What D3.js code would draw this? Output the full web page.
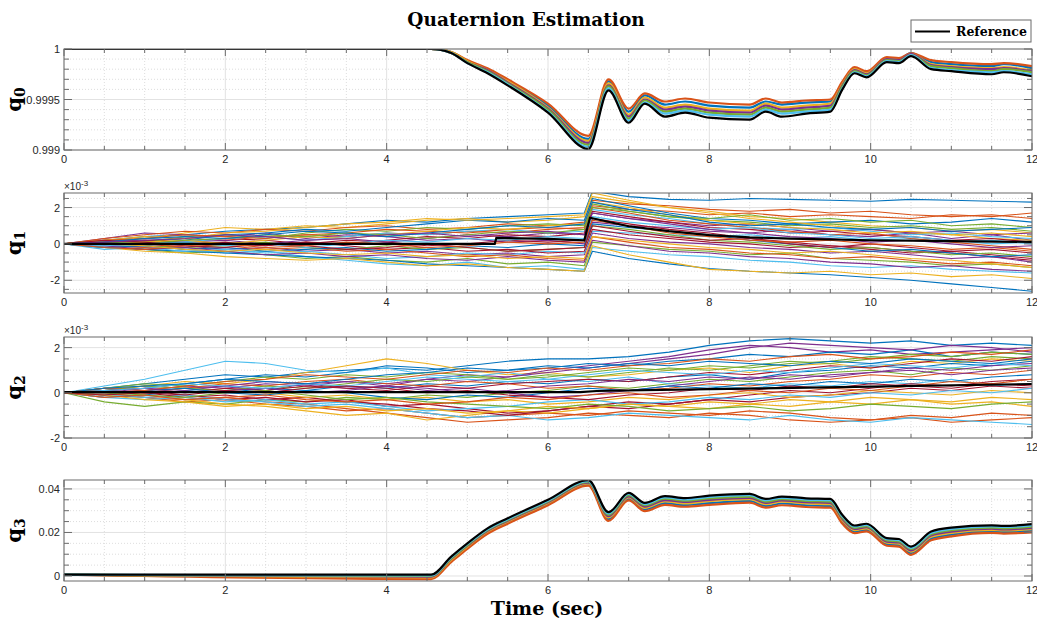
<!DOCTYPE html>
<html>
<head>
<meta charset="utf-8">
<script src="https://cdn.jsdelivr.net/npm/d3@7"></script>
<style>
  body { margin: 0; background: #fff; }
  svg { display: block; }
</style>
</head>
<body>
<svg id="chart" width="1037" height="621"></svg>
<script>
// ---- data ----
// time grid for q0 / q3 (smooth signals)
const tKey = [0, 4.55, 4.8, 5.0, 5.25, 5.5, 6.0, 6.5, 6.75, 7.0, 7.2, 7.45, 7.7, 8.0, 8.5, 8.7, 8.9, 9.2, 9.5, 9.65, 9.8, 9.95, 10.2, 10.35, 10.5, 10.75, 11.0, 11.5, 11.65, 12];

const q0Ref = [1, 1, 0.99996, 0.99986, 0.99976, 0.99964, 0.99937, 0.99901, 0.99959, 0.99927, 0.99946, 0.99933, 0.99937, 0.99932, 0.99930, 0.99938, 0.99933, 0.99936, 0.99938, 0.99960, 0.99976, 0.99972, 0.99987, 0.99986, 0.99993, 0.99980, 0.99978, 0.99975, 0.99977, 0.99973];
const q0Runs = [
  [1, 1, 0.99997, 0.99988, 0.99980, 0.99969, 0.99944, 0.99911, 0.99968, 0.99938, 0.99954, 0.99945, 0.99948, 0.99944, 0.99942, 0.99948, 0.99945, 0.99947, 0.99948, 0.99966, 0.99981, 0.99977, 0.99991, 0.99990, 0.99996, 0.99987, 0.99985, 0.99983, 0.99985, 0.99981],
  [1, 1, 0.99997, 0.99989, 0.99981, 0.99970, 0.99946, 0.99914, 0.99970, 0.99941, 0.99956, 0.99948, 0.99951, 0.99947, 0.99945, 0.99951, 0.99947, 0.99949, 0.99950, 0.99968, 0.99982, 0.99978, 0.99992, 0.99991, 0.99996, 0.99989, 0.99987, 0.99985, 0.99986, 0.99983],
  [1, 1, 0.99997, 0.99988, 0.99979, 0.99968, 0.99942, 0.99909, 0.99966, 0.99935, 0.99952, 0.99942, 0.99945, 0.99941, 0.99939, 0.99946, 0.99942, 0.99944, 0.99946, 0.99965, 0.99980, 0.99976, 0.99990, 0.99989, 0.99995, 0.99985, 0.99983, 0.99981, 0.99982, 0.99979],
  [1, 1, 0.99996, 0.99987, 0.99979, 0.99967, 0.99941, 0.99907, 0.99964, 0.99933, 0.99950, 0.99940, 0.99943, 0.99939, 0.99937, 0.99944, 0.99940, 0.99942, 0.99944, 0.99964, 0.99979, 0.99975, 0.99990, 0.99989, 0.99995, 0.99984, 0.99982, 0.99980, 0.99981, 0.99978],
  [1, 1, 0.99996, 0.99987, 0.99978, 0.99966, 0.99940, 0.99905, 0.99963, 0.99931, 0.99949, 0.99938, 0.99941, 0.99937, 0.99935, 0.99942, 0.99938, 0.99940, 0.99942, 0.99963, 0.99978, 0.99974, 0.99989, 0.99988, 0.99994, 0.99983, 0.99981, 0.99978, 0.99980, 0.99977],
  [1, 1, 0.99996, 0.99986, 0.99977, 0.99965, 0.99938, 0.99903, 0.99961, 0.99929, 0.99947, 0.99936, 0.99939, 0.99935, 0.99933, 0.99940, 0.99936, 0.99938, 0.99940, 0.99961, 0.99977, 0.99973, 0.99988, 0.99987, 0.99994, 0.99981, 0.99979, 0.99977, 0.99978, 0.99975]
];

const q3Ref = [0.0006, 0.0006, 0.0089, 0.0150, 0.0219, 0.0265, 0.0350, 0.0440, 0.0293, 0.0382, 0.0336, 0.0367, 0.0358, 0.0369, 0.0377, 0.0354, 0.0365, 0.0357, 0.0354, 0.0280, 0.0232, 0.0240, 0.0174, 0.0170, 0.0135, 0.0204, 0.0222, 0.0233, 0.0230, 0.0238];
const q3Runs = [
  [0.0006, -0.0010, 0.0069, 0.0130, 0.0199, 0.0245, 0.0330, 0.0420, 0.0261, 0.0354, 0.0306, 0.0335, 0.0326, 0.0335, 0.0345, 0.0322, 0.0333, 0.0325, 0.0322, 0.0248, 0.0204, 0.0212, 0.0146, 0.0142, 0.0105, 0.0172, 0.0190, 0.0205, 0.0202, 0.0208],
  [0.0006, -0.0014, 0.0064, 0.0125, 0.0194, 0.0240, 0.0325, 0.0415, 0.0253, 0.0347, 0.0298, 0.0327, 0.0318, 0.0327, 0.0337, 0.0314, 0.0325, 0.0317, 0.0314, 0.0240, 0.0197, 0.0205, 0.0139, 0.0135, 0.0097, 0.0164, 0.0182, 0.0198, 0.0195, 0.0200],
  [0.0006, -0.0006, 0.0074, 0.0135, 0.0204, 0.0250, 0.0335, 0.0425, 0.0269, 0.0361, 0.0313, 0.0343, 0.0334, 0.0344, 0.0353, 0.0330, 0.0341, 0.0333, 0.0330, 0.0256, 0.0211, 0.0219, 0.0153, 0.0149, 0.0112, 0.0180, 0.0198, 0.0212, 0.0209, 0.0215],
  [0.0006, -0.0003, 0.0078, 0.0139, 0.0208, 0.0254, 0.0339, 0.0429, 0.0275, 0.0366, 0.0319, 0.0349, 0.0340, 0.0350, 0.0359, 0.0336, 0.0347, 0.0339, 0.0336, 0.0262, 0.0216, 0.0224, 0.0158, 0.0154, 0.0118, 0.0186, 0.0204, 0.0217, 0.0214, 0.0221],
  [0.0006, 0.0000, 0.0081, 0.0142, 0.0211, 0.0257, 0.0342, 0.0432, 0.0281, 0.0371, 0.0325, 0.0355, 0.0346, 0.0356, 0.0365, 0.0342, 0.0353, 0.0345, 0.0342, 0.0268, 0.0221, 0.0229, 0.0163, 0.0159, 0.0124, 0.0192, 0.0210, 0.0222, 0.0219, 0.0227],
  [0.0006, 0.0003, 0.0085, 0.0146, 0.0215, 0.0261, 0.0346, 0.0436, 0.0287, 0.0377, 0.0330, 0.0361, 0.0352, 0.0363, 0.0371, 0.0348, 0.0359, 0.0351, 0.0348, 0.0274, 0.0227, 0.0235, 0.0169, 0.0165, 0.0129, 0.0198, 0.0216, 0.0228, 0.0225, 0.0232]
];

// q1, q2 are in units of 1e-3 (axis shows x10^-3)
const t1 = [0, 0.5, 1, 1.5, 2, 2.5, 3, 3.5, 4, 4.5, 5, 5.5, 6, 6.45, 6.55, 7, 7.5, 8, 8.5, 9, 9.5, 10, 10.5, 11, 11.5, 12];
const q1RefT = [0, 5.34, 5.36, 6.0, 6.45, 6.52, 7.0, 7.5, 8.0, 8.5, 9.0, 10.0, 11.0, 12.0];
const q1Ref = [0, 0, 0.33, 0.28, 0.2, 1.44, 0.97, 0.70, 0.48, 0.36, 0.29, 0.2, 0.15, 0.11];
const q1Runs = [
  [0, 0.2, 0.4, 0.5, 0.7, 0.8, 0.9, 1.1, 1.3, 1.2, 1.4, 1.5, 1.6, 1.7, 2.9, 2.6, 2.45, 2.4, 2.5, 2.45, 2.4, 2.35, 2.45, 2.4, 2.35, 2.3],
  [0, -0.1, 0.1, 0.3, 0.2, 0.4, 0.5, 0.4, 0.6, 0.5, 0.7, 0.6, 0.8, 0.9, 2.1, 1.9, 1.8, 1.6, 1.7, 1.5, 1.6, 1.5, 1.4, 1.6, 1.5, 1.7],
  [0, 0.2, 0.3, 0.6, 0.9, 0.8, 1.0, 0.9, 1.1, 1.3, 1.4, 1.2, 1.3, 1.5, 2.6, 2.3, 2.0, 1.8, 1.5, 1.4, 1.2, 1.0, 0.9, 0.7, 0.8, 0.6],
  [0, 0.3, 0.6, 0.5, 0.4, 0.6, 0.3, 0.5, 0.4, 0.2, 0.3, 0.1, 0.2, 0.0, 1.2, 1.0, 0.9, 0.7, 0.6, 0.8, 0.5, 0.4, 0.6, 0.3, 0.5, 0.2],
  [0, -0.2, -0.3, -0.5, -0.4, -0.6, -0.8, -0.7, -0.9, -1.0, -0.8, -1.1, -1.0, -1.2, 0.1, -0.1, -0.3, -0.4, -0.6, -0.5, -0.8, -0.9, -1.0, -1.2, -1.1, -1.3],
  [0, 0.1, -0.1, -0.3, -0.5, -0.4, -0.7, -0.9, -1.1, -1.2, -1.0, -1.3, -1.2, -1.4, -0.2, -0.4, -0.6, -0.7, -0.9, -1.0, -1.2, -1.3, -1.2, -1.4, -1.5, -1.6],
  [0, 0.1, 0.2, 0.1, 0.3, 0.2, 0.0, 0.2, 0.1, -0.1, 0.0, 0.2, 0.1, 0.2, 1.4, 1.1, 0.8, 0.6, 0.3, 0.1, -0.1, -0.2, -0.4, -0.5, -0.7, -0.9],
  [0, -0.2, -0.3, -0.4, -0.5, -0.6, -0.7, -0.8, -0.9, -1.1, -1.2, -1.3, -1.4, -1.5, -0.4, -0.8, -1.1, -1.35, -1.5, -1.6, -1.7, -1.85, -2.0, -2.2, -2.4, -2.6],
  [0, 0.3, 0.5, 0.7, 0.6, 0.8, 0.7, 0.9, 1.0, 0.8, 0.9, 1.1, 1.0, 1.2, 2.4, 2.2, 2.1, 1.9, 1.8, 1.9, 1.7, 1.8, 1.6, 1.5, 1.6, 1.4],
  [0, -0.2, -0.4, -0.5, -0.7, -0.8, -0.9, -0.8, -1.0, -1.2, -1.1, -1.3, -1.4, -1.5, -0.1, -0.6, -1.0, -1.4, -1.5, -1.6, -1.5, -1.7, -1.6, -1.8, -1.7, -1.9],
  [0, 0.0, -0.2, -0.1, -0.3, -0.2, -0.4, -0.3, -0.5, -0.4, -0.6, -0.5, -0.7, -0.6, 0.6, 0.3, 0.1, 0.0, -0.2, -0.3, -0.5, -0.4, -0.6, -0.8, -0.7, -1.0],
  [0, 0.2, 0.1, 0.4, 0.5, 0.3, 0.6, 0.8, 0.7, 0.9, 0.8, 1.0, 1.1, 1.0, 2.2, 1.8, 1.5, 1.3, 1.2, 1.0, 1.1, 0.9, 1.0, 0.8, 0.9, 0.7],
  [0, -0.3, -0.2, -0.4, -0.3, -0.5, -0.4, -0.6, -0.8, -0.7, -0.5, -0.6, -0.4, -0.5, 0.7, 0.6, 0.5, 0.4, 0.5, 0.3, 0.4, 0.2, 0.3, 0.1, 0.2, 0.0],
  [0, -0.1, 0.0, -0.2, 0.0, -0.1, 0.1, -0.1, -0.3, -0.2, -0.4, -0.3, -0.5, -0.4, 0.8, 0.5, 0.3, 0.1, 0.0, -0.2, -0.1, -0.3, -0.5, -0.4, -0.6, -0.8],
  [0, 0.1, 0.3, 0.2, 0.5, 0.6, 0.8, 0.7, 0.9, 1.1, 1.3, 1.2, 1.4, 1.3, 2.5, 2.1, 1.7, 1.4, 1.3, 1.1, 1.2, 1.3, 1.1, 1.2, 1.4, 1.2],
  [0, -0.1, -0.2, 0.0, -0.1, -0.3, -0.2, -0.4, -0.3, -0.5, -0.7, -0.6, -0.8, -0.9, 0.4, 0.1, -0.2, -0.3, -0.5, -0.6, -0.8, -0.7, -0.9, -1.1, -1.0, -1.2],
  [0, 0.2, 0.4, 0.3, 0.6, 0.7, 0.9, 1.1, 1.2, 1.4, 1.3, 1.4, 1.5, 1.6, 2.8, 2.4, 2.0, 1.7, 1.4, 1.2, 1.0, 0.8, 0.6, 0.5, 0.3, 0.2],
  [0, -0.1, -0.1, 0.1, 0.2, 0.0, 0.2, 0.3, 0.1, 0.3, 0.5, 0.4, 0.6, 0.5, 1.7, 1.4, 1.2, 1.0, 1.1, 0.9, 0.7, 0.8, 0.6, 0.7, 0.5, 0.6],
  [0, 0.1, -0.1, -0.2, -0.1, 0.1, -0.2, -0.3, -0.1, -0.3, -0.2, -0.4, -0.3, -0.2, 1.0, 0.8, 0.5, 0.2, 0.1, -0.1, -0.3, -0.2, -0.4, -0.6, -0.5, -0.7],
  [0, -0.2, 0.0, 0.1, 0.3, 0.4, 0.2, 0.4, 0.6, 0.5, 0.7, 0.8, 0.6, 0.7, 1.9, 1.6, 1.4, 1.1, 0.9, 0.8, 0.9, 0.7, 0.5, 0.6, 0.4, 0.3],
  [0, 0.1, 0.2, 0.0, 0.1, -0.1, 0.1, 0.0, 0.2, 0.4, 0.3, 0.5, 0.4, 0.6, 1.8, 1.5, 1.2, 0.9, 0.8, 0.6, 0.7, 0.5, 0.4, 0.2, 0.3, 0.1],
  [0, -0.2, -0.1, -0.3, -0.2, -0.4, -0.3, -0.2, -0.4, -0.3, -0.1, -0.2, 0.0, -0.1, 1.1, 0.9, 0.7, 0.5, 0.2, 0.0, -0.2, -0.4, -0.3, -0.5, -0.7, -0.6],
  [0, 0.2, 0.3, 0.5, 0.4, 0.3, 0.5, 0.6, 0.8, 0.7, 0.6, 0.8, 0.9, 0.8, 2.0, 1.7, 1.3, 1.1, 0.9, 0.7, 0.5, 0.6, 0.3, 0.1, -0.1, -0.3],
  [0, 0.0, 0.1, 0.2, 0.0, 0.2, 0.4, 0.3, 0.5, 0.7, 0.9, 0.8, 1.0, 1.1, 2.3, 2.0, 1.6, 1.3, 1.1, 0.9, 0.8, 0.6, 0.7, 0.5, 0.6, 0.4],
  [0, -0.1, -0.3, -0.2, -0.4, -0.6, -0.5, -0.7, -0.6, -0.8, -0.9, -0.7, -0.9, -1.0, 0.2, -0.1, -0.4, -0.5, -0.7, -0.8, -1.0, -1.1, -1.3, -1.2, -1.4, -1.5],
  [0, 0.1, 0.0, 0.2, 0.3, 0.5, 0.4, 0.6, 0.5, 0.3, 0.5, 0.7, 0.6, 0.8, 2.0, 1.8, 1.5, 1.4, 1.6, 1.3, 1.4, 1.2, 1.3, 1.0, 1.1, 0.9],
  [0, -0.1, 0.0, 0.1, -0.1, 0.0, -0.2, 0.0, 0.2, 0.1, 0.3, 0.2, 0.4, 0.3, 1.5, 1.2, 1.0, 0.8, 0.9, 0.6, 0.5, 0.3, 0.4, 0.2, 0.0, 0.1],
  [0, 0.2, 0.1, -0.1, -0.2, 0.0, -0.1, -0.3, -0.2, 0.0, -0.2, -0.4, -0.3, -0.2, 1.0, 0.7, 0.4, 0.2, 0.3, 0.0, -0.2, 0.0, -0.2, -0.4, -0.3, -0.5],
  [0, 0.1, 0.3, 0.4, 0.3, 0.5, 0.7, 0.6, 0.4, 0.6, 0.8, 1.0, 0.9, 1.1, 2.3, 1.9, 1.6, 1.2, 1.0, 1.1, 0.9, 0.8, 0.9, 0.7, 0.8, 0.9],
  [0, -0.2, -0.3, -0.1, 0.0, -0.2, -0.1, 0.1, 0.0, -0.2, -0.1, 0.1, 0.0, 0.1, 1.3, 1.0, 0.6, 0.4, 0.2, 0.1, 0.2, 0.0, -0.1, -0.3, -0.2, -0.4],
  [0, 0.0, -0.1, -0.3, -0.4, -0.3, -0.5, -0.6, -0.5, -0.7, -0.6, -0.8, -0.7, -0.8, 0.4, 0.2, 0.0, -0.2, -0.3, -0.5, -0.4, -0.6, -0.8, -0.9, -1.1, -1.3],
  [0, 0.1, 0.2, 0.3, 0.5, 0.4, 0.2, 0.3, 0.5, 0.6, 0.4, 0.6, 0.7, 0.5, 1.7, 1.4, 1.1, 0.8, 0.6, 0.4, 0.3, 0.1, 0.2, 0.0, -0.2, -0.1]
];

const t2 = [0, 0.5, 1, 1.5, 2, 2.5, 3, 3.5, 4, 4.5, 5, 5.5, 6, 6.5, 7, 7.5, 8, 8.5, 9, 9.5, 10, 10.5, 11, 11.5, 12];
const q2RefT = [0, 6.4, 6.6, 8, 10, 12];
const q2Ref = [0.03, 0.03, 0.08, 0.16, 0.27, 0.39];
const q2Runs = [
  [0, 0.2, 0.4, 0.6, 0.8, 0.7, 0.9, 1.0, 1.1, 1.0, 1.2, 1.4, 1.5, 1.5, 1.6, 1.8, 2.1, 2.3, 2.4, 2.3, 2.2, 2.3, 2.1, 2.2, 2.1],
  [0, -0.1, -0.2, -0.4, -0.3, -0.5, -0.6, -0.8, -0.7, -0.9, -1.1, -1.0, -0.9, -1.0, -0.8, -0.9, -1.0, -0.8, -0.9, -1.1, -1.2, -1.0, -1.1, -0.9, -1.0],
  [0, 0.2, 0.3, 0.5, 0.4, 0.6, 0.9, 1.2, 1.5, 1.3, 1.0, 0.8, 0.9, 0.7, 0.8, 1.0, 1.1, 0.9, 1.2, 1.3, 1.1, 1.4, 1.3, 1.5, 1.4],
  [0, 0.1, 0.0, 0.2, 0.3, 0.1, 0.4, 0.5, 0.3, 0.6, 0.8, 0.7, 1.0, 1.2, 1.4, 1.6, 1.9, 2.1, 2.0, 1.8, 1.9, 1.7, 1.8, 1.9, 2.0],
  [0, -0.4, -0.6, -0.4, -0.5, -0.3, -0.4, -0.2, -0.3, -0.1, -0.2, 0.0, 0.1, 0.3, 0.2, 0.4, 0.6, 0.5, 0.7, 0.9, 1.0, 0.8, 1.1, 1.0, 1.2],
  [0, 0.3, 0.6, 1.0, 1.4, 1.3, 1.0, 0.9, 1.1, 0.8, 0.7, 0.9, 0.6, 0.5, 0.7, 0.4, 0.3, 0.2, 0.4, 0.3, 0.5, 0.4, 0.6, 0.3, 0.4],
  [0, -0.1, 0.1, -0.1, -0.3, -0.2, -0.4, -0.3, -0.6, -0.5, -0.7, -0.9, -0.8, -0.6, -0.7, -0.5, -0.3, -0.4, -0.2, -0.1, 0.0, 0.2, 0.1, 0.3, 0.2],
  [0, 0.1, 0.2, 0.4, 0.6, 0.8, 0.7, 0.9, 1.2, 1.1, 0.9, 1.0, 1.1, 1.3, 1.2, 1.4, 1.5, 1.7, 1.6, 1.8, 1.7, 1.9, 1.6, 1.8, 1.7],
  [0, 0.0, -0.2, -0.3, -0.2, -0.4, -0.5, -0.7, -0.9, -1.1, -1.3, -1.2, -1.1, -0.9, -1.0, -1.1, -0.9, -1.0, -1.2, -1.3, -1.2, -1.1, -1.3, -1.2, -1.1],
  [0, 0.1, -0.1, -0.3, -0.5, -0.6, -0.8, -1.0, -0.9, -1.2, -1.0, -0.8, -0.9, -0.7, -0.5, -0.6, -0.4, -0.5, -0.3, -0.4, -0.2, -0.3, -0.5, -0.4, -0.6],
  [0, 0.2, 0.1, 0.3, 0.2, 0.4, 0.3, 0.5, 0.4, 0.6, 0.5, 0.7, 0.9, 1.1, 1.3, 1.5, 1.7, 2.0, 2.2, 2.1, 2.0, 1.9, 2.1, 2.0, 1.8],
  [0, 0.2, 0.4, 0.3, 0.5, 0.7, 0.6, 0.8, 0.7, 0.9, 0.8, 0.6, 0.7, 0.9, 1.1, 1.0, 1.2, 1.1, 1.3, 1.4, 1.6, 1.5, 1.4, 1.6, 1.5],
  [0, -0.1, -0.2, -0.1, -0.3, -0.4, -0.6, -0.5, -0.7, -0.9, -1.1, -1.0, -1.2, -1.1, -0.9, -1.0, -1.1, -1.2, -1.0, -1.2, -1.3, -1.1, -1.2, -1.3, -1.4],
  [0, 0.1, 0.0, -0.2, -0.1, -0.3, -0.2, -0.4, -0.5, -0.7, -0.8, -1.0, -0.8, -0.6, -0.4, -0.5, -0.3, -0.1, 0.1, 0.0, 0.2, 0.4, 0.3, 0.5, 0.6],
  [0, -0.2, -0.1, 0.1, 0.0, 0.2, 0.1, 0.3, 0.2, 0.4, 0.3, 0.5, 0.4, 0.6, 0.5, 0.7, 0.8, 0.6, 0.9, 1.0, 1.2, 1.1, 1.3, 1.2, 1.4],
  [0, 0.1, 0.3, 0.2, 0.4, 0.3, 0.5, 0.6, 0.4, 0.3, 0.5, 0.4, 0.2, 0.3, 0.1, 0.2, 0.4, 0.3, 0.5, 0.6, 0.8, 0.7, 0.9, 0.8, 1.0],
  [0, -0.1, 0.0, 0.2, 0.1, 0.0, -0.2, -0.1, -0.3, -0.2, -0.4, -0.3, -0.5, -0.4, -0.2, -0.3, -0.1, 0.0, -0.2, -0.1, 0.1, 0.0, -0.1, 0.1, 0.0],
  [0, 0.0, 0.2, 0.1, 0.3, 0.5, 0.4, 0.2, 0.3, 0.1, 0.2, 0.0, -0.2, -0.1, 0.1, 0.3, 0.5, 0.7, 0.6, 0.8, 0.9, 1.1, 1.0, 1.2, 1.3],
  [0, 0.1, 0.3, 0.2, 0.1, 0.3, 0.2, 0.4, 0.6, 0.5, 0.7, 0.6, 0.8, 0.7, 0.9, 1.1, 1.0, 1.2, 1.4, 1.3, 1.5, 1.7, 1.6, 1.8, 1.7],
  [0, -0.2, -0.3, -0.2, -0.4, -0.3, -0.5, -0.4, -0.6, -0.8, -0.7, -0.6, -0.4, -0.3, -0.5, -0.4, -0.2, -0.3, -0.1, -0.2, 0.0, -0.1, 0.1, 0.0, 0.2],
  [0, 0.0, 0.1, 0.0, 0.2, 0.1, 0.3, 0.2, 0.1, 0.3, 0.2, 0.4, 0.5, 0.6, 0.5, 0.7, 0.9, 0.8, 1.0, 1.2, 1.1, 1.3, 1.5, 1.4, 1.6],
  [0, -0.1, 0.1, 0.2, 0.0, -0.1, 0.1, 0.0, -0.2, -0.3, -0.1, -0.2, 0.0, 0.2, 0.1, 0.3, 0.2, 0.4, 0.3, 0.5, 0.4, 0.6, 0.5, 0.7, 0.8],
  [0, 0.2, 0.1, 0.3, 0.5, 0.6, 0.8, 0.7, 0.6, 0.8, 1.0, 0.9, 1.1, 1.0, 1.2, 1.3, 1.5, 1.4, 1.6, 1.7, 1.5, 1.6, 1.8, 1.7, 1.9],
  [0, -0.1, -0.3, -0.4, -0.6, -0.5, -0.7, -0.6, -0.8, -0.7, -0.9, -0.8, -0.6, -0.7, -0.5, -0.6, -0.7, -0.5, -0.6, -0.4, -0.5, -0.3, -0.4, -0.2, -0.3],
  [0, 0.1, 0.2, 0.0, 0.1, 0.2, 0.0, 0.1, 0.3, 0.2, 0.0, 0.1, 0.3, 0.4, 0.6, 0.5, 0.7, 0.6, 0.8, 0.7, 0.9, 1.0, 0.8, 1.0, 1.1],
  [0, 0.0, -0.1, -0.2, 0.0, 0.1, -0.1, -0.3, -0.2, -0.4, -0.5, -0.6, -0.7, -0.5, -0.6, -0.8, -0.7, -0.6, -0.8, -0.7, -0.5, -0.6, -0.7, -0.5, -0.4],
  [0, 0.1, 0.2, 0.4, 0.3, 0.2, 0.4, 0.3, 0.5, 0.7, 0.6, 0.5, 0.6, 0.8, 1.0, 0.9, 0.8, 1.0, 0.9, 1.1, 1.3, 1.2, 1.1, 1.3, 1.2],
  [0, -0.1, 0.0, -0.1, 0.1, 0.0, 0.2, 0.3, 0.2, 0.0, 0.1, -0.1, -0.2, -0.3, -0.1, 0.0, 0.2, 0.1, 0.3, 0.2, 0.4, 0.3, 0.2, 0.4, 0.3],
  [0, 0.2, 0.3, 0.4, 0.6, 0.5, 0.4, 0.6, 0.8, 0.9, 1.1, 1.0, 1.2, 1.1, 1.3, 1.2, 1.4, 1.3, 1.2, 1.4, 1.3, 1.5, 1.4, 1.3, 1.5],
  [0, -0.2, -0.1, -0.3, -0.2, -0.1, -0.3, -0.4, -0.3, -0.5, -0.4, -0.2, -0.3, -0.1, 0.0, -0.2, -0.1, 0.1, 0.0, 0.2, 0.1, 0.3, 0.5, 0.4, 0.6]
];

// tick labels
const xTicks = [0, 2, 4, 6, 8, 10, 12];
const q0Ticks = [0.999, 0.9995, 1];
const q1Ticks = [-2, 0, 2];
const q2Ticks = [-2, 0, 2];
const q3Ticks = [0, 0.02, 0.04];

// MATLAB default line colour order
const lineColors = ["#0072BD", "#D95319", "#EDB120", "#7E2F8E", "#77AC30", "#4DBEEE", "#A2142F"];

// ---- layout ----
const svg = d3.select("#chart");
const x = d3.scaleLinear().domain([0, 12]).range([64, 1032]);
const serif = "'DejaVu Serif', 'Liberation Serif', serif";
const sans = "'Liberation Sans', Arial, Helvetica, sans-serif";

const panels = [
  { sub: "0", top: 49, bottom: 150, domain: [0.999, 1], ticks: q0Ticks, minor: [0.999, 1, 0.0001],
    runT: tKey, runs: q0Runs, refT: tKey, ref: q0Ref, curve: d3.curveMonotoneX, runW: 2.2 },
  { sub: "1", top: 193, bottom: 293, domain: [-2.7, 2.8], ticks: q1Ticks, minor: [-2.5, 2.5, 0.5], exp: true,
    runT: t1, runs: q1Runs, refT: q1RefT, ref: q1Ref, curve: d3.curveLinear, runW: 1.1 },
  { sub: "2", top: 337, bottom: 438, domain: [-2, 2.47], ticks: q2Ticks, minor: [-2, 2, 0.5], exp: true,
    runT: t2, runs: q2Runs, refT: q2RefT, ref: q2Ref, curve: d3.curveLinear, runW: 1.1 },
  { sub: "3", top: 480, bottom: 581, domain: [-0.0023, 0.0441], ticks: q3Ticks, minor: [0, 0.04, 0.005],
    runT: tKey, runs: q3Runs, refT: tKey, ref: q3Ref, curve: d3.curveMonotoneX, runW: 2.2 }
];

const xMinor = d3.range(0, 25).map(i => i * 0.5);

panels.forEach((p, pi) => {
  const y = d3.scaleLinear().domain(p.domain).range([p.bottom, p.top]);
  const g = svg.append("g");
  const nMinor = Math.round((p.minor[1] - p.minor[0]) / p.minor[2]);
  const yMinor = d3.range(0, nMinor + 1).map(i => p.minor[0] + i * p.minor[2]);
  const isMajorY = v => p.ticks.some(t => Math.abs(t - v) < p.minor[2] / 10);

  // minor grid (dotted)
  g.selectAll(".mgx").data(xMinor.filter(v => !xTicks.includes(v)))
    .enter().append("line")
    .attr("x1", d => x(d)).attr("x2", d => x(d)).attr("y1", p.top).attr("y2", p.bottom)
    .attr("stroke", "#d4d4d4").attr("stroke-width", 0.8).attr("stroke-dasharray", "1,2");
  g.selectAll(".mgy").data(yMinor.filter(v => !isMajorY(v)))
    .enter().append("line")
    .attr("x1", 64).attr("x2", 1032).attr("y1", d => y(d)).attr("y2", d => y(d))
    .attr("stroke", "#d4d4d4").attr("stroke-width", 0.8).attr("stroke-dasharray", "1,2");
  // major grid
  g.selectAll(".gx").data(xTicks).enter().append("line")
    .attr("x1", d => x(d)).attr("x2", d => x(d)).attr("y1", p.top).attr("y2", p.bottom)
    .attr("stroke", "#e2e2e2").attr("stroke-width", 1);
  g.selectAll(".gy").data(p.ticks).enter().append("line")
    .attr("x1", 64).attr("x2", 1032).attr("y1", d => y(d)).attr("y2", d => y(d))
    .attr("stroke", "#e2e2e2").attr("stroke-width", 1);

  // clip for the lines
  const clipId = "clip" + pi;
  svg.append("clipPath").attr("id", clipId).append("rect")
    .attr("x", 64).attr("y", p.top).attr("width", 968).attr("height", p.bottom - p.top);

  const lines = g.append("g").attr("clip-path", `url(#${clipId})`);
  const runLine = d3.line().x((d, i) => x(p.runT[i])).y(d => y(d)).curve(p.curve);
  lines.selectAll(".run").data(p.runs).enter().append("path")
    .attr("d", runLine)
    .attr("fill", "none")
    .attr("stroke", (d, i) => lineColors[i % lineColors.length])
    .attr("stroke-width", p.runW)
    .attr("stroke-linejoin", "round");
  const refLine = d3.line().x((d, i) => x(p.refT[i])).y(d => y(d)).curve(p.curve);
  lines.append("path").datum(p.ref)
    .attr("d", refLine)
    .attr("fill", "none").attr("stroke", "#000").attr("stroke-width", 2.2);

  // box
  g.append("rect").attr("x", 64).attr("y", p.top).attr("width", 968).attr("height", p.bottom - p.top)
    .attr("fill", "none").attr("stroke", "#6b6b6b").attr("stroke-width", 1);

  // ticks (inside, on all four sides)
  const tk = g.append("g").attr("stroke", "#6b6b6b").attr("stroke-width", 1);
  xMinor.forEach(v => {
    const len = xTicks.includes(v) ? 7 : 4;
    tk.append("line").attr("x1", x(v)).attr("x2", x(v)).attr("y1", p.bottom).attr("y2", p.bottom - len);
    tk.append("line").attr("x1", x(v)).attr("x2", x(v)).attr("y1", p.top).attr("y2", p.top + len);
  });
  yMinor.forEach(v => {
    const len = isMajorY(v) ? 8 : 5;
    tk.append("line").attr("x1", 64).attr("x2", 64 + len).attr("y1", y(v)).attr("y2", y(v));
    tk.append("line").attr("x1", 1032).attr("x2", 1032 - len).attr("y1", y(v)).attr("y2", y(v));
  });

  // tick labels
  g.selectAll(".xl").data(xTicks).enter().append("text")
    .attr("x", d => x(d)).attr("y", p.bottom + 13)
    .attr("text-anchor", "middle")
    .attr("font-family", sans).attr("font-size", 11).attr("fill", "#262626")
    .text(d => d);
  g.selectAll(".yl").data(p.ticks).enter().append("text")
    .attr("x", 60).attr("y", d => y(d) + 4)
    .attr("text-anchor", "end")
    .attr("font-family", sans).attr("font-size", 11).attr("fill", "#262626")
    .text(d => String(d));

  if (p.exp) {
    const e = g.append("text").attr("x", 64).attr("y", p.top - 3)
      .attr("font-family", sans).attr("font-size", 10).attr("fill", "#262626");
    e.append("tspan").text("\u00d710");
    e.append("tspan").attr("dy", -4).attr("font-size", 8).text("-3");
  }

  // y label
  const yl = g.append("text")
    .attr("transform", `translate(21,${(p.top + p.bottom) / 2}) rotate(-90)`)
    .attr("text-anchor", "middle")
    .attr("font-family", serif).attr("font-weight", "bold").attr("font-size", 21).attr("fill", "#000");
  yl.append("tspan").text("q");
  yl.append("tspan").attr("dy", 4).attr("font-size", 14).text(p.sub);
});

// title
svg.append("text").attr("x", 526).attr("y", 26)
  .attr("text-anchor", "middle")
  .attr("font-family", serif).attr("font-weight", "bold").attr("font-size", 18.5)
  .text("Quaternion Estimation");

// x axis label
svg.append("text").attr("x", 547).attr("y", 615)
  .attr("text-anchor", "middle")
  .attr("font-family", serif).attr("font-weight", "bold").attr("font-size", 19)
  .text("Time (sec)");

// legend
const lg = svg.append("g");
lg.append("rect").attr("x", 911).attr("y", 20).attr("width", 120).attr("height", 22)
  .attr("fill", "#fff").attr("stroke", "#6b6b6b").attr("stroke-width", 1);
lg.append("line").attr("x1", 915).attr("x2", 950).attr("y1", 31.5).attr("y2", 31.5)
  .attr("stroke", "#000").attr("stroke-width", 2.2);
lg.append("text").attr("x", 956).attr("y", 36)
  .attr("font-family", serif).attr("font-weight", "bold").attr("font-size", 12.5)
  .text("Reference");
</script>
</body>
</html>
